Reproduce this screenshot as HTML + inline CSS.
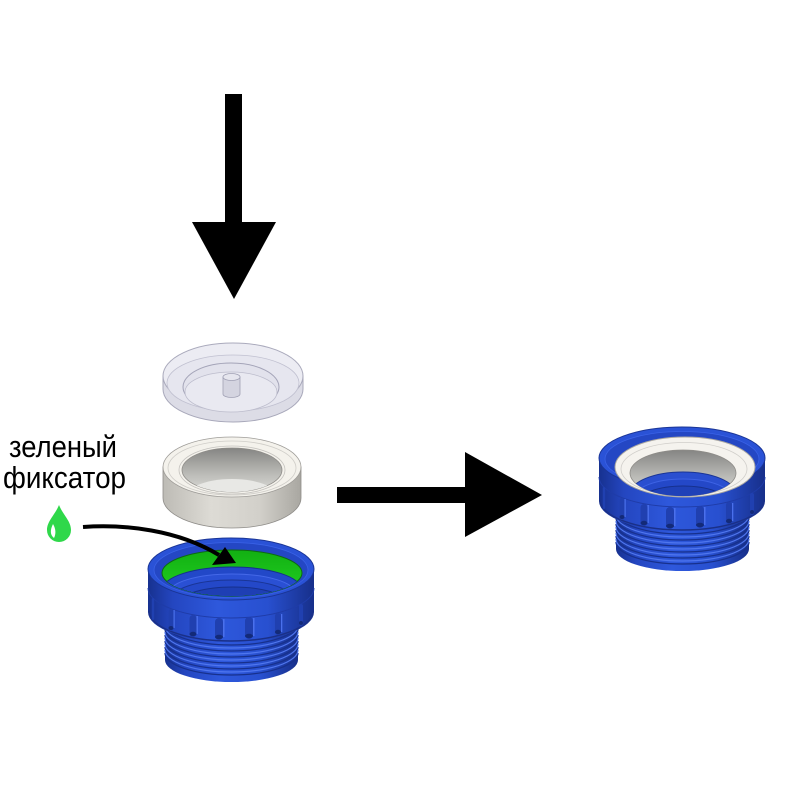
<!DOCTYPE html>
<html><head><meta charset="utf-8"><style>
html,body{margin:0;padding:0;background:#fff;}
svg{display:block;}
</style></head><body>
<svg width="800" height="800" viewBox="0 0 800 800" xmlns="http://www.w3.org/2000/svg">
<defs>
<linearGradient id="bl" x1="0" x2="1" y1="0" y2="0">
<stop offset="0" stop-color="#17318f"/><stop offset="0.15" stop-color="#2446c0"/>
<stop offset="0.42" stop-color="#2e58dc"/><stop offset="0.72" stop-color="#2850d0"/>
<stop offset="1" stop-color="#172f8a"/></linearGradient>
<linearGradient id="gs" x1="0" x2="1" y1="0" y2="0">
<stop offset="0" stop-color="#bdbbb5"/><stop offset="0.35" stop-color="#dddbd5"/>
<stop offset="0.7" stop-color="#d2d0ca"/><stop offset="1" stop-color="#a9a7a1"/></linearGradient>
<linearGradient id="gv" x1="0" x2="0" y1="0" y2="1">
<stop offset="0" stop-color="#858583"/><stop offset="0.55" stop-color="#b8b8b4"/>
<stop offset="1" stop-color="#dadad6"/></linearGradient>
<linearGradient id="gr" x1="0" x2="0" y1="0" y2="1">
<stop offset="0" stop-color="#12b012"/><stop offset="1" stop-color="#22d022"/></linearGradient>
<clipPath id="c1"><ellipse cx="232" cy="573" rx="70" ry="23"/></clipPath>
<clipPath id="c2"><ellipse cx="683" cy="473" rx="53" ry="23"/></clipPath>
<clipPath id="c3"><ellipse cx="232" cy="470" rx="50" ry="22"/></clipPath>
</defs>

<!-- down arrow -->
<rect x="225" y="94" width="17" height="130" fill="#000"/>
<polygon points="192,222 276,222 234,299" fill="#000"/>
<!-- right arrow -->
<rect x="337" y="487" width="130" height="16" fill="#000"/>
<polygon points="465,452 465,537 542,495" fill="#000"/>

<!-- clear disc -->
<path d="M163,376 L163,389 A70,33 0 0 0 303,389 L303,376 Z" fill="#dcdce6" stroke="#a8a8ba" stroke-width="1"/>
<ellipse cx="233" cy="376" rx="70" ry="33" fill="#ececf3" stroke="#aaaabc" stroke-width="1"/>
<ellipse cx="233" cy="383" rx="66" ry="28" fill="#e6e6ef" stroke="#c0c0d0" stroke-width="0.8"/>
<ellipse cx="231" cy="387" rx="48" ry="24" fill="#e2e2ec" stroke="#a4a4b8" stroke-width="1"/>
<ellipse cx="231" cy="392" rx="46" ry="20" fill="#e9e9f1" stroke="#bcbccc" stroke-width="0.8"/>
<path d="M223,377 L223,394 A8.5,3.5 0 0 0 240,394 L240,377 Z" fill="#d4d4e0" stroke="#a0a0b4" stroke-width="0.8"/>
<ellipse cx="231.5" cy="377" rx="8.5" ry="3.5" fill="#e6e6ee" stroke="#a0a0b4" stroke-width="0.8"/>

<!-- gasket -->
<path d="M163,467 L163,498 A69,30 0 0 0 301,498 L301,467 Z" fill="url(#gs)" stroke="#8e8c88" stroke-width="0.8"/>
<ellipse cx="232" cy="467" rx="69" ry="30" fill="#f4f2ec" stroke="#9e9c98" stroke-width="0.8"/>
<ellipse cx="232" cy="468" rx="64" ry="27" fill="none" stroke="#cfcdc8" stroke-width="0.8"/>
<ellipse cx="232" cy="470" rx="53" ry="24" fill="none" stroke="#c4c2be" stroke-width="0.8"/>
<ellipse cx="232" cy="470" rx="50" ry="22" fill="url(#gv)" stroke="#8e8c88" stroke-width="0.8"/>
<g clip-path="url(#c3)"><ellipse cx="232" cy="501" rx="50" ry="22" fill="#e8e8e5"/></g>

<!-- LEFT FITTING BODY -->
<g id="body">
<path d="M165,605 L165,660 A66.5,22 0 0 0 298,660 L298,605 Z" fill="url(#bl)"/>
<g fill="none">
<path d="M165,623 A66.5,22 0 0 0 298,623" stroke="#17308c" stroke-width="1.3"/>
<path d="M165,629 A66.5,22 0 0 0 298,629" stroke="#17308c" stroke-width="1.3"/>
<path d="M165,635 A66.5,22 0 0 0 298,635" stroke="#17308c" stroke-width="1.3"/>
<path d="M165,641 A66.5,22 0 0 0 298,641" stroke="#17308c" stroke-width="1.3"/>
<path d="M165,647 A66.5,22 0 0 0 298,647" stroke="#17308c" stroke-width="1.3"/>
<path d="M165,653 A66.5,22 0 0 0 298,653" stroke="#17308c" stroke-width="1.3"/>
<path d="M165,626 A66.5,22 0 0 0 298,626" stroke="#4f76ee" stroke-width="1.2"/>
<path d="M165,632 A66.5,22 0 0 0 298,632" stroke="#4f76ee" stroke-width="1.2"/>
<path d="M165,638 A66.5,22 0 0 0 298,638" stroke="#4f76ee" stroke-width="1.2"/>
<path d="M165,644 A66.5,22 0 0 0 298,644" stroke="#4f76ee" stroke-width="1.2"/>
<path d="M165,650 A66.5,22 0 0 0 298,650" stroke="#4f76ee" stroke-width="1.2"/>
</g>
<path d="M148,569 L148,612 A83,30 0 0 0 314,612 L314,569 Z" fill="url(#bl)"/>
<path d="M149,611 A82,30 0 0 0 313,611" fill="none" stroke="#1a3088" stroke-width="1.5"/>
<path d="M148,588 A83,30 0 0 0 314,588" fill="none" stroke="#1f3ca8" stroke-width="1"/>
<g fill="#2040b0">
<rect x="151.8" y="598" width="2.4" height="22" rx="1.2"/>
<rect x="168.5" y="609" width="5" height="22" rx="2.5"/>
<rect x="189.5" y="615" width="7" height="22" rx="3.5"/>
<rect x="215" y="618" width="8" height="22" rx="4"/>
<rect x="245" y="617" width="8" height="22" rx="4"/>
<rect x="275" y="613" width="6" height="22" rx="3"/>
<rect x="299" y="604" width="4" height="22" rx="2"/>
</g>
<g fill="#132a78">
<ellipse cx="171" cy="628" rx="2.5" ry="2"/>
<ellipse cx="193" cy="634" rx="3.5" ry="2.2"/>
<ellipse cx="219" cy="637" rx="4" ry="2.2"/>
<ellipse cx="249" cy="636" rx="4" ry="2.2"/>
<ellipse cx="278" cy="632" rx="3" ry="2.2"/>
<ellipse cx="301" cy="623" rx="2" ry="2"/>
</g>
<g fill="#4a70ec">
<rect x="173.5" y="610" width="1.2" height="18"/>
<rect x="196.5" y="616" width="1.4" height="18"/>
<rect x="223" y="619" width="1.5" height="18"/>
<rect x="253" y="618" width="1.5" height="18"/>
<rect x="281" y="614" width="1.3" height="18"/>
</g>
<ellipse cx="231" cy="569" rx="83" ry="31" fill="#2a52d6" stroke="#1a3596" stroke-width="1"/>
<ellipse cx="231" cy="570" rx="77" ry="27.5" fill="#2447c4" stroke="#3a62e6" stroke-width="0.8"/>
</g>

<!-- left fitting interior -->
<ellipse cx="232" cy="573" rx="70" ry="23" fill="url(#gr)" stroke="#0d6a12" stroke-width="1"/>
<g clip-path="url(#c1)">
<ellipse cx="232" cy="589" rx="69" ry="22" fill="#2248c8" stroke="#16308c" stroke-width="1"/>
<ellipse cx="232" cy="593" rx="63" ry="19" fill="#2a50d4" stroke="#4468e8" stroke-width="1"/>
<ellipse cx="232" cy="597" rx="58" ry="17" fill="#2448c8" stroke="#1a3596" stroke-width="1"/>
<ellipse cx="233" cy="602" rx="52" ry="15" fill="#1e3fb4" stroke="#16308c" stroke-width="1"/>
</g>

<!-- RIGHT FITTING -->
<use href="#body" transform="translate(451,-111)"/>
<ellipse cx="685" cy="467" rx="70" ry="30" fill="#f5f3ee" stroke="#a9a7a2" stroke-width="1"/>
<ellipse cx="684" cy="469" rx="63" ry="26.5" fill="none" stroke="#d0ceca" stroke-width="0.8"/>
<ellipse cx="683" cy="473" rx="53" ry="23" fill="url(#gv)" stroke="#8e8c88" stroke-width="0.8"/>
<g clip-path="url(#c2)">
<ellipse cx="683" cy="494" rx="53" ry="22" fill="#2a4fd0" stroke="#1a3596" stroke-width="1"/>
<ellipse cx="683" cy="498" rx="49" ry="19" fill="#2448c8" stroke="#3d62e4" stroke-width="1"/>
<ellipse cx="683" cy="503" rx="45" ry="17" fill="#1f41b8" stroke="#16308c" stroke-width="1"/>
</g>

<!-- label -->
<text x="9" y="457" font-family="Liberation Sans, Arial, sans-serif" font-size="31" fill="#000" textLength="108" lengthAdjust="spacingAndGlyphs">зеленый</text>
<text x="3" y="488" font-family="Liberation Sans, Arial, sans-serif" font-size="31" fill="#000" textLength="123" lengthAdjust="spacingAndGlyphs">фиксатор</text>

<!-- droplet -->
<path d="M59,505 C55,515 47,521 47,530 A12,12 0 0 0 71,530 C71,521 63,515 59,505 Z" fill="#2fd84a"/>
<path d="M53,524 C50,530 50,535 54,538 C56,534 56,529 53,524 Z" fill="#fff"/>

<!-- curved arrow -->
<path d="M83,527 C125,524 178,530 219,555" fill="none" stroke="#000" stroke-width="4"/>
<polygon points="212,565 225,547 236,563" fill="#000"/>
</svg>
</body></html>
